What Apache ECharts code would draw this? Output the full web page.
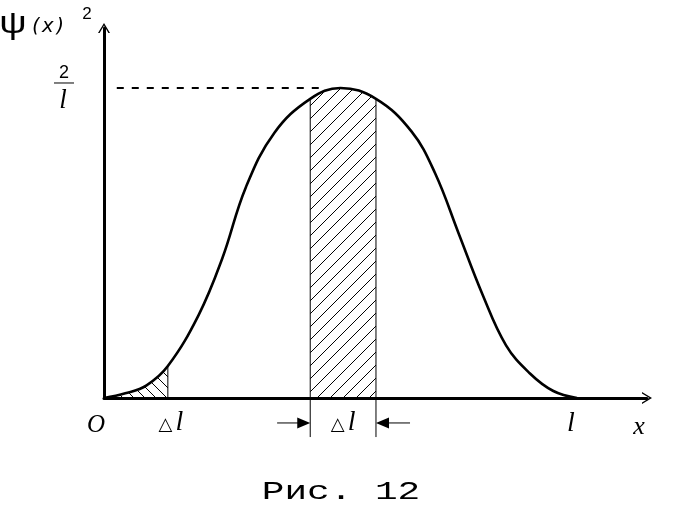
<!DOCTYPE html>
<html><head><meta charset="utf-8">
<script src="https://cdn.jsdelivr.net/npm/echarts@6/dist/echarts.min.js"></script>
<style>html,body{margin:0;padding:0;background:#fff}#c{width:676px;height:516px}</style>
</head><body><div id="c"></div>
<script>
// ---- data (x in units of l, y in units of 1/l) ----
const curveX = [0, 0.045, 0.09, 0.135, 0.20, 0.25, 0.30, 0.36, 0.436, 0.50, 0.575, 0.65, 0.70, 0.75, 0.80, 0.85, 0.90, 0.95, 1.0];
const curveY = [0, 0.03, 0.082, 0.206, 0.535, 0.90, 1.36, 1.71, 1.93, 2.0, 1.93, 1.72, 1.45, 1.06, 0.67, 0.34, 0.16, 0.045, 0];
const peakLevel = 2;
const peakDashRange = [0.027, 0.47];
const stripRange = [0.436, 0.575];
const smallRange = [0, 0.135];
const arrowStarts = [0.366, 0.647];
const labelOrigin = 'O';
const labelEnd = 'l';
const labelAxisX = 'x';
const labelDelta = '△l';
const labelPeakNum = '2';
const labelPeakDen = 'l';
const labelPsi = 'ψ';
const labelPsiArg = '(x)';
const labelPow = '2';
const titleText = 'Рис. 12';

// ---- build ----
const curve = curveX.map((x, i) => [x, curveY[i]]);
function yAt(x) { const i = curveX.indexOf(x); return curveY[i]; }
function sub(r) { return curve.filter(p => p[0] >= r[0] - 1e-9 && p[0] <= r[1] + 1e-9); }
function hatch(size, dir) {
  const c = document.createElement('canvas'); c.width = c.height = size;
  const g = c.getContext('2d'); g.strokeStyle = '#000'; g.lineWidth = 1; g.beginPath();
  if (dir > 0) { g.moveTo(-1, size + 1); g.lineTo(size + 1, -1); }
  else { g.moveTo(-1, -1); g.lineTo(size + 1, size + 1); }
  g.stroke(); return c;
}
const belowY = -0.252, arrowY = -0.161;
const SM = 0.4;
const arrowSym = 'path://M0,10 L6,0 L12,10 L10.4,10 L6,2.6 L1.6,10 Z';
const chart = echarts.init(document.getElementById('c'), null, { renderer: 'canvas' });
const axisLine = { show: true, onZero: false, symbol: ['none', arrowSym], symbolSize: [12, 10], symbolOffset: [0, 0], lineStyle: { color: '#000', width: 3 } };
const edge = (x, y0, y1) => ({ type: 'line', data: [[x, y0], [x, y1]], symbol: 'none', clip: false, silent: true, lineStyle: { color: '#000', width: 1 }, z: 3 });
chart.setOption({
  animation: false,
  backgroundColor: '#fff',
  grid: { left: 104, right: 29, top: 28, bottom: 118, containLabel: false },
  xAxis: { type: 'value', min: 0, max: 1.148, axisLine: axisLine, axisTick: { show: false }, axisLabel: { show: false }, splitLine: { show: false } },
  yAxis: { type: 'value', min: 0, max: 2.387, axisLine: axisLine, axisTick: { show: false }, axisLabel: { show: false }, splitLine: { show: false } },
  series: [
    { type: 'line', data: sub(stripRange), symbol: 'none', smooth: SM, lineStyle: { width: 0 }, areaStyle: { color: { image: hatch(13, 1), repeat: 'repeat' }, opacity: 1 }, z: 1 },
    { type: 'line', data: sub(smallRange), symbol: 'none', smooth: SM, lineStyle: { width: 0 }, areaStyle: { color: { image: hatch(11, -1), repeat: 'repeat' }, opacity: 1 }, z: 1 },
    edge(stripRange[0], belowY, yAt(stripRange[0])),
    edge(stripRange[1], belowY, yAt(stripRange[1])),
    edge(smallRange[1], 0, yAt(smallRange[1])),
    { type: 'line', data: [[peakDashRange[0], peakLevel], [peakDashRange[1], peakLevel]], symbol: 'none', silent: true, lineStyle: { color: '#000', width: 2, type: [7, 8] }, z: 2 },
    { type: 'custom', silent: true, clip: false, z: 3,
      data: [[arrowStarts[0], stripRange[0], arrowY], [arrowStarts[1], stripRange[1], arrowY]],
      renderItem: function (params, api) {
        const a = api.coord([api.value(0), api.value(2)]);
        const b = api.coord([api.value(1), api.value(2)]);
        const d = b[0] > a[0] ? 1 : -1;
        return { type: 'group', children: [
          { type: 'line', shape: { x1: a[0], y1: a[1], x2: b[0] - d * 10, y2: b[1] }, style: { stroke: '#000', lineWidth: 1 } },
          { type: 'polygon', shape: { points: [[b[0], b[1]], [b[0] - d * 13, b[1] - 5.5], [b[0] - d * 13, b[1] + 5.5]] }, style: { fill: '#000' } }
        ] };
      } },
    { type: 'line', data: curve, symbol: 'none', smooth: SM, lineStyle: { color: '#000', width: 2.6 }, z: 5 }
  ]
});
const P = (x, y) => chart.convertToPixel({ gridIndex: 0 }, [x, y]);
const serifI = { fontFamily: 'Liberation Serif', fontStyle: 'italic', fill: '#000' };
const deltaRich = { d: { fontFamily: 'DejaVu Sans', fontSize: 18, fill: '#000', padding: [4, 3, 0, 0] }, l: { fontFamily: 'Liberation Serif', fontStyle: 'italic', fontSize: 28, fill: '#000' } };
const deltaText = '{d|' + labelDelta.charAt(0) + '}{l|' + labelDelta.slice(1) + '}';
const o0 = P(0, 0), oEnd = P(1, 0), oMid = P((stripRange[0] + stripRange[1]) / 2, 0), oSmall = P(smallRange[1], 0), oPeak = P(0, peakLevel);
chart.setOption({ graphic: [
  { type: 'text', x: o0[0] - 8, y: o0[1] + 27, style: Object.assign({ text: labelOrigin, fontSize: 25, textAlign: 'center', textVerticalAlign: 'middle' }, serifI) },
  { type: 'text', x: oSmall[0] + 3, y: oSmall[1] + 25, style: { text: deltaText, rich: deltaRich, textAlign: 'center', textVerticalAlign: 'middle' } },
  { type: 'text', x: oMid[0], y: oMid[1] + 25, style: { text: deltaText, rich: deltaRich, textAlign: 'center', textVerticalAlign: 'middle' } },
  { type: 'text', x: oEnd[0] - 6, y: oEnd[1] + 26, style: Object.assign({ text: labelEnd, fontSize: 28, textAlign: 'center', textVerticalAlign: 'middle' }, serifI) },
  { type: 'text', x: 639, y: oEnd[1] + 29, style: Object.assign({ text: labelAxisX, fontSize: 26, textAlign: 'center', textVerticalAlign: 'middle' }, serifI) },
  { type: 'text', x: oPeak[0] - 40, y: oPeak[1] - 15, style: { text: labelPeakNum, fontFamily: 'Liberation Sans', fontSize: 18, fill: '#000', textAlign: 'center', textVerticalAlign: 'middle' } },
  { type: 'line', shape: { x1: oPeak[0] - 50, y1: oPeak[1] - 5, x2: oPeak[0] - 30, y2: oPeak[1] - 5 }, style: { stroke: '#000', lineWidth: 1 } },
  { type: 'text', x: oPeak[0] - 41, y: oPeak[1] + 13, style: Object.assign({ text: labelPeakDen, fontSize: 27, textAlign: 'center', textVerticalAlign: 'middle' }, serifI) },
  { type: 'text', x: 13, y: 24, scaleX: 1.2, style: { text: labelPsi, fontFamily: 'Liberation Sans', fontSize: 32, fill: '#000', textAlign: 'center', textVerticalAlign: 'middle' } },
  { type: 'text', x: 48, y: 27, style: { text: labelPsiArg, fontFamily: 'DejaVu Sans Mono', fontStyle: 'italic', fontSize: 20, fill: '#000', textAlign: 'center', textVerticalAlign: 'middle' } },
  { type: 'text', x: 87, y: 14, style: { text: labelPow, fontFamily: 'Liberation Sans', fontSize: 17, fill: '#000', textAlign: 'center', textVerticalAlign: 'middle' } },
  { type: 'text', x: 341, y: 492, scaleX: 1.45, style: { text: titleText, fontFamily: 'Liberation Mono', fontSize: 26, fill: '#000', textAlign: 'center', textVerticalAlign: 'middle' } }
] });
</script></body></html>
